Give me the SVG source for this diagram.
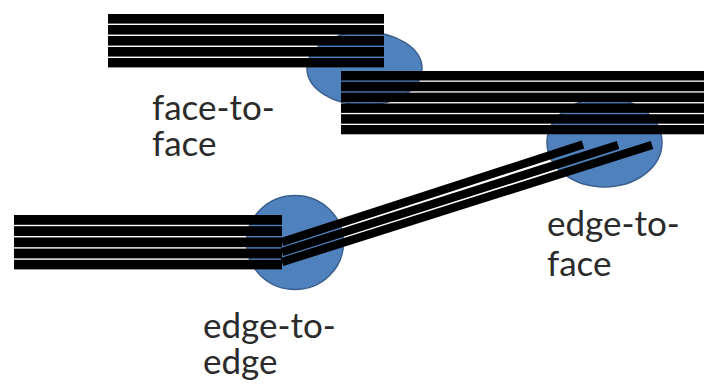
<svg xmlns="http://www.w3.org/2000/svg" width="704" height="385" viewBox="0 0 704 385">
<style>
.joint{fill:#4f81bd;stroke:#3b5f8c;stroke-width:1.5}
.bar{fill:#000}
.diag{stroke:#000;stroke-width:8.4;stroke-linecap:butt;fill:none}
.lbl{font-family:Lato,"Open Sans","Liberation Sans",sans-serif;font-size:35px;fill:#2b2b2b}
</style>
<rect width="704" height="385" fill="#fff"/>
<g id="joints">
<ellipse id="joint-face-to-face" class="joint" cx="364.5" cy="68.5" rx="57.5" ry="36.5"/>
<ellipse id="joint-edge-to-edge" class="joint" cx="295" cy="242.5" rx="48.5" ry="47"/>
<ellipse id="joint-edge-to-face" class="joint" cx="604.5" cy="142.5" rx="57.5" ry="44.5"/>
</g>
<g id="stack-top">
<rect class="bar" x="108" y="14" width="276" height="9.6"/>
<rect class="bar" x="108" y="25" width="276" height="9.6"/>
<rect class="bar" x="108" y="36" width="276" height="9.6"/>
<rect class="bar" x="108" y="47" width="276" height="9.6"/>
<rect class="bar" x="108" y="58" width="276" height="9.4"/>
</g>
<g id="stack-right">
<rect class="bar" x="341" y="71" width="363" height="9.5"/>
<rect class="bar" x="341" y="81.8" width="363" height="9.5"/>
<rect class="bar" x="341" y="92.6" width="363" height="9.5"/>
<rect class="bar" x="341" y="103.4" width="363" height="9.5"/>
<rect class="bar" x="341" y="114.2" width="363" height="9.5"/>
<rect class="bar" x="341" y="125" width="363" height="9.3"/>
</g>
<g id="stack-left">
<rect class="bar" x="14" y="215" width="268" height="9.8"/>
<rect class="bar" x="14" y="226.2" width="268" height="9.8"/>
<rect class="bar" x="14" y="237.4" width="268" height="9.8"/>
<rect class="bar" x="14" y="248.6" width="268" height="9.8"/>
<rect class="bar" x="14" y="259.8" width="268" height="9.6"/>
</g>
<g id="connectors">
<line class="diag" x1="282" y1="242" x2="583" y2="144.5"/>
<line class="diag" x1="282" y1="252" x2="618" y2="145"/>
<line class="diag" x1="282" y1="262" x2="652" y2="145"/>
</g>
<g id="labels">
<text class="lbl" x="152" y="120">face-to-</text>
<text class="lbl" x="152" y="156">face</text>
<text class="lbl" x="547" y="236">edge-to-</text>
<text class="lbl" x="547" y="276">face</text>
<text class="lbl" x="203" y="338">edge-to-</text>
<text class="lbl" x="203" y="374">edge</text>
</g>
</svg>
